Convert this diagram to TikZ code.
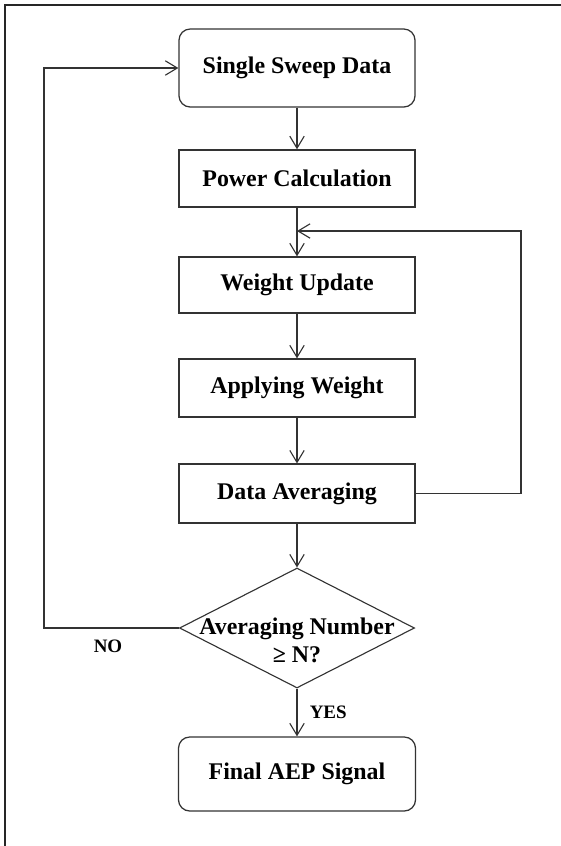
\documentclass[tikz,border=0pt]{standalone}
\usepackage{fontspec}
\setmainfont{Liberation Serif}
\usetikzlibrary{shapes.geometric,arrows.meta}

\tikzset{
  every node/.style={font=\fontsize{17}{20}\selectfont\bfseries},
  procbox/.style={draw=black!80, line width=0.9pt, minimum width=5.9cm},
  endbox/.style={procbox, rounded corners=0.28cm},
  flow/.style={draw=black!80, line width=0.8pt, -{Straight Barb[length=3mm,width=3.6mm]}},
  answer/.style={font=\fontsize{13.5}{16}\selectfont\bfseries},
}

\begin{document}
\begin{tikzpicture}
\useasboundingbox (0,0) rectangle (14.025,-21.15);
\draw[line width=1.5pt, black!85] (0.125,-21.15) -- (0.125,-0.125) -- (14.025,-0.125);

% main column
\node[endbox, minimum height=1.95cm] (sweep) at (7.425,-1.7) {Single Sweep Data};
\node[procbox, minimum height=1.425cm] (power) at (7.425,-4.46) {Power Calculation};
\node[procbox, minimum height=1.4cm] (update) at (7.425,-7.125) {Weight Update};
\node[procbox, minimum height=1.45cm] (apply) at (7.425,-9.7) {Applying Weight};
\node[procbox, minimum height=1.475cm] (avg) at (7.425,-12.34) {Data Averaging};
\node[draw=black!80, line width=0.8pt, diamond, minimum width=5.875cm, minimum height=3cm] (check) at (7.425,-15.7) {};
\node[align=center] (checktext) at (7.425,-16.0) {Averaging Number\\ ≥ N?};
\node[endbox, minimum width=5.925cm, minimum height=1.85cm] (final) at (7.425,-19.35) {Final AEP Signal};

\draw[flow] (sweep) -- (power);
\draw[flow] (power) -- (update);
\draw[flow] (update) -- (apply);
\draw[flow] (apply) -- (avg);
\draw[flow] (avg) -- (check);
\draw[flow] (check) -- (final);

% averaging loop back to the weight update
\coordinate (loopcorner) at (13.025,-5.775);
\coordinate (loopin) at (7.425,-5.775);
\draw[flow] (avg.east) -| (loopcorner) -- (loopin);

% not enough sweeps: take the next one
\coordinate (nocorner) at (1.1,-1.7);
\draw[flow] (check.west) -| (nocorner) -- (sweep.west);

\node[answer] (nolabel) at (2.7,-16.15) {NO};
\node[answer, anchor=west] (yeslabel) at (7.62,-17.8) {YES};
\end{tikzpicture}
\end{document}
